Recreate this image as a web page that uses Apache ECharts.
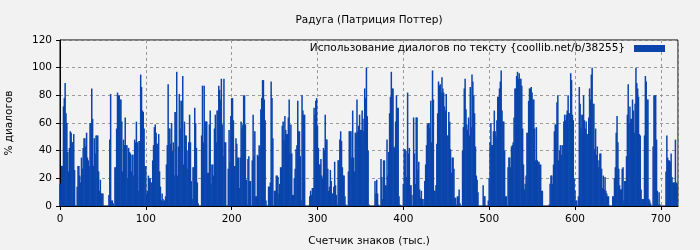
<!DOCTYPE html>
<html><head><meta charset="utf-8">
<script src="https://cdn.jsdelivr.net/npm/echarts@6/dist/echarts.min.js"></script>
<style>html,body{margin:0;padding:0;background:#f2f2f2}#c{width:700px;height:250px}</style>
</head><body><div id="c"></div>
<script>
const chartTitle = 'Радуга (Патриция Поттер)';
const seriesName = 'Использование диалогов по тексту {coollib.net/b/38255}';
const xAxisName = 'Счетчик знаков (тыс.)';
const yAxisName = '% диалогов';
const xTicks = [0, 100, 200, 300, 400, 500, 600, 700];
const yTicks = [0, 20, 40, 60, 80, 100, 120];
// share of dialogue (%) per thousand characters, index = thousand chars
const dialogShare = [
16,16,29,29,72,78,89,67,60,39,
25,42,54,53,46,46,52,26,0,0,
14,29,29,22,17,35,27,42,49,49,
43,53,35,33,29,60,60,85,63,29,
49,38,51,51,51,25,11,19,9,9,
9,0,0,0,0,0,0,8,48,81,
4,4,2,0,28,28,56,82,80,80,
77,77,61,25,48,44,64,44,44,20,
42,39,38,25,37,37,22,48,46,61,
46,11,47,47,95,86,69,68,56,29,
29,9,11,22,20,20,17,17,33,44,
57,59,53,45,45,52,25,14,4,9,
5,4,4,7,30,44,88,56,56,45,
60,40,46,22,68,68,97,22,43,81,
56,76,76,94,30,61,51,51,40,27,
46,66,46,18,5,28,28,71,60,42,
17,2,0,0,0,51,87,46,87,61,
61,61,24,24,59,69,16,30,30,22,
56,66,46,69,69,87,84,77,92,59,
36,92,46,46,0,0,27,55,32,65,
78,78,62,29,29,49,45,35,35,13,
35,61,56,59,80,80,59,19,1,34,
36,18,18,0,33,66,36,54,7,7,
37,36,44,43,70,78,91,91,77,62,
4,0,0,14,14,17,90,78,49,0,
11,11,22,22,21,9,16,28,28,58,
61,48,65,55,52,52,64,77,38,59,
38,8,8,20,27,41,44,76,54,54,
36,4,80,69,66,66,0,0,0,0,
0,7,11,8,13,13,71,66,76,78,
58,42,30,30,34,22,20,42,40,66,
48,48,27,11,14,26,18,9,9,14,
32,15,8,1,33,33,48,54,47,28,
22,22,7,1,0,0,25,54,54,54,
35,69,35,25,53,53,77,54,58,66,
55,55,69,63,54,85,78,100,65,40,
1,0,0,0,0,0,0,18,9,19,
9,1,0,0,34,21,5,33,33,15,
15,48,22,39,67,79,97,85,85,43,
42,61,80,71,71,7,1,0,0,0,
16,41,41,40,21,82,38,42,15,15,
8,0,64,38,16,64,64,26,32,12,
6,11,5,5,0,18,30,44,59,60,
60,56,76,46,98,77,11,11,15,45,
67,90,87,88,82,93,85,82,72,69,
81,51,51,68,61,41,24,35,35,27,
6,6,1,7,7,12,2,0,0,40,
57,85,92,70,59,55,64,51,86,57,
95,90,80,67,43,22,19,10,0,0,
0,0,0,15,7,7,0,0,0,4,
20,46,60,44,44,54,69,54,50,62,
79,79,85,90,98,69,61,61,40,7,
7,0,28,35,35,28,43,44,46,64,
85,85,94,97,92,96,92,92,87,56,
30,12,16,22,53,53,76,85,85,86,
82,77,77,56,33,57,33,32,32,30,
30,11,11,0,0,0,0,0,0,0,
1,16,22,22,16,30,54,59,59,75,
80,33,40,44,37,44,44,61,66,62,
66,69,80,67,67,96,91,66,62,20,
11,4,4,0,7,86,74,56,66,66,
80,62,56,61,52,52,64,85,77,95,
100,74,74,41,56,37,43,28,33,38,
38,27,13,22,12,21,11,9,7,7,
0,0,0,0,7,7,20,28,53,65,
46,27,15,12,12,27,28,4,18,18,
36,66,88,60,72,63,63,77,69,53,
74,100,89,85,79,52,51,12,5,5,
5,51,94,90,77,77,5,4,2,0,
0,43,80,80,80,48,11,1,10,1,
0,0,0,0,0,0,25,51,35,33,
33,32,38,21,17,17,17,48,17,16
];

const chart = echarts.init(document.getElementById('c'), null, {renderer: 'canvas'});
const font = 'DejaVu Sans';
const fs = 10.5;
const barData = dialogShare.map((v, i) => [i, v]);
chart.setOption({
  backgroundColor: '#f2f2f2',
  animation: false,
  textStyle: {fontFamily: font},
  title: {
    text: chartTitle, left: 364, top: 10, textAlign: 'center',
    textStyle: {fontFamily: font, fontSize: fs, fontWeight: 'normal', color: '#000'}
  },
  legend: {
    data: [{name: seriesName, icon: 'rect'}],
    right: 30, top: 38, itemWidth: 31, itemHeight: 7, align: 'right',
    textStyle: {fontFamily: font, fontSize: fs, color: '#000', padding: [0, 4, 0, 0]}
  },
  grid: {
    left: 60, right: 22, top: 40, bottom: 44, show: true,
    containLabel: false, outerBoundsMode: 'none',
    backgroundColor: '#f2f2f2', borderColor: '#000', borderWidth: 1
  },
  xAxis: {
    type: 'value', min: 0, max: 720, interval: 100,
    name: xAxisName, nameLocation: 'middle', nameGap: 30,
    nameTextStyle: {fontFamily: font, fontSize: fs, color: '#000'},
    axisLine: {lineStyle: {color: '#000'}},
    axisTick: {show: true, length: 4, lineStyle: {color: '#000'}},
    axisLabel: {fontFamily: font, fontSize: fs, color: '#000', showMaxLabel: false,
      formatter: v => xTicks.includes(v) ? String(v) : ''},
    splitLine: {show: true, lineStyle: {color: '#9a9a9a', type: [3, 3]}}
  },
  yAxis: {
    type: 'value', min: 0, max: 120, interval: 20,
    name: yAxisName, nameLocation: 'middle', nameGap: 45,
    nameTextStyle: {fontFamily: font, fontSize: fs, color: '#000'},
    axisLine: {show: true, lineStyle: {color: '#000'}},
    axisTick: {show: true, length: 4, lineStyle: {color: '#000'}},
    axisLabel: {fontFamily: font, fontSize: fs, color: '#000',
      formatter: v => yTicks.includes(v) ? String(v) : ''},
    splitLine: {show: true, lineStyle: {color: '#9a9a9a', type: [3, 3]}}
  },
  series: [{
    name: seriesName, type: 'bar', data: barData, barWidth: 1.5,
    itemStyle: {color: '#0a44ac'}, barGap: '0%'
  }]
});
</script></body></html>
